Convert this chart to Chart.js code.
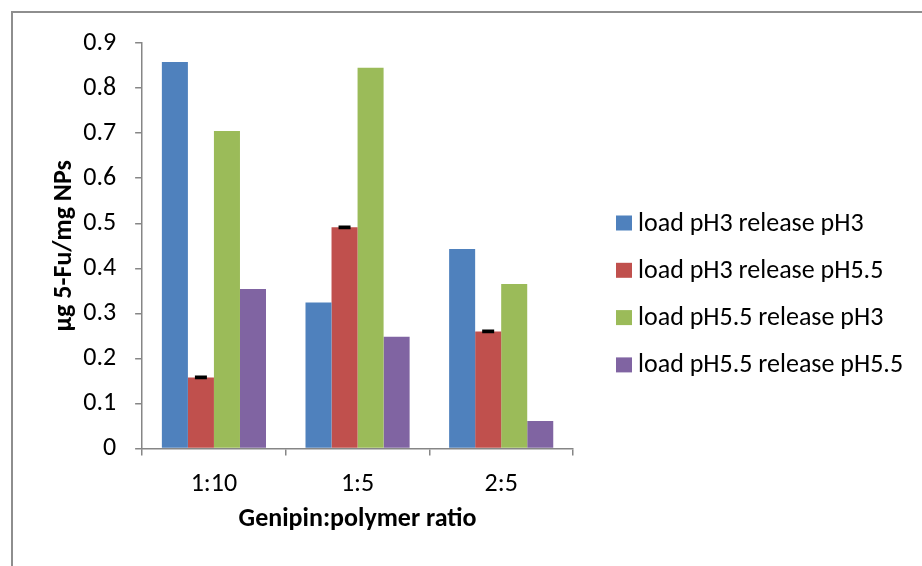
<!DOCTYPE html>
<html>
<head>
<meta charset="utf-8">
<script src="https://cdn.jsdelivr.net/npm/chart.js@4.4.1/dist/chart.umd.min.js"></script>
<style>
  html, body { margin: 0; padding: 0; background: #fff; }
  #wrap { position: relative; width: 922px; height: 566px; }
  #frame { position: absolute; left: 11px; top: 11px; right: 0; bottom: 0;
           border-left: 2px solid #8e8e8e; border-top: 2px solid #8e8e8e; }
  canvas { position: absolute; left: 0; top: 0; }
</style>
</head>
<body>
<div id="wrap">
  <div id="frame"></div>
  <canvas id="chart" width="922" height="566"></canvas>
</div>
<script>
// ---- Data ----
const ratios = ['1:10', '1:5', '2:5'];
const seriesNames = ['load pH3 release pH3', 'load pH3 release pH5.5', 'load pH5.5 release pH3', 'load pH5.5 release pH5.5'];
const loadPH3RelPH3 = [0.858, 0.324, 0.443];
const loadPH3RelPH55 = [0.158, 0.491, 0.260];
const loadPH55RelPH3 = [0.705, 0.845, 0.365];
const loadPH55RelPH55 = [0.354, 0.248, 0.061];
const errPH3RelPH55 = [0.002, 0.002, 0.002];
const colors = ['#4F81BD', '#C0504D', '#9BBB59', '#8064A2'];

const FONT = 'Carlito, Calibri, Lato, sans-serif';

// small black error caps (only the second series has them)
const errorBars = {
  id: 'errorBars',
  afterDatasetsDraw(chart) {
    const ctx = chart.ctx;
    const meta = chart.getDatasetMeta(1);
    const y = chart.scales.y;
    ctx.save();
    ctx.strokeStyle = '#000';
    ctx.lineWidth = 2;
    meta.data.forEach((bar, i) => {
      const v = loadPH3RelPH55[i], e = errPH3RelPH55[i];
      const yTop = y.getPixelForValue(v + e), yBot = y.getPixelForValue(v - e);
      ctx.beginPath();
      ctx.moveTo(bar.x, yTop); ctx.lineTo(bar.x, yBot);
      ctx.moveTo(bar.x - 6, yTop); ctx.lineTo(bar.x + 6, yTop);
      ctx.moveTo(bar.x - 6, yBot); ctx.lineTo(bar.x + 6, yBot);
      ctx.stroke();
    });
    ctx.restore();
  }
};

// legend drawn on the right, Excel style (square + label)
const sideLegend = {
  id: 'sideLegend',
  afterDraw(chart) {
    const ctx = chart.ctx;
    const x0 = chart.chartArea.right + 43;
    const y0 = 223;
    const step = 47.3;
    ctx.save();
    ctx.font = '26px ' + FONT;
    ctx.textBaseline = 'middle';
    chart.data.datasets.forEach((ds, i) => {
      const cy = y0 + i * step;
      ctx.fillStyle = ds.backgroundColor;
      ctx.fillRect(x0, cy - 7.5, 16, 15);
      ctx.fillStyle = '#000';
      ctx.fillText(ds.label, x0 + 22, cy + 1);
    });
    ctx.restore();
  }
};

const values = [loadPH3RelPH3, loadPH3RelPH55, loadPH55RelPH3, loadPH55RelPH55];

new Chart(document.getElementById('chart'), {
  type: 'bar',
  data: {
    labels: ratios,
    datasets: values.map((d, i) => ({
      label: seriesNames[i],
      data: d,
      backgroundColor: colors[i],
      borderWidth: 0,
      categoryPercentage: 0.725,
      barPercentage: 1
    }))
  },
  options: {
    responsive: false,
    animation: false,
    layout: { padding: { left: 49, top: 43, right: 349, bottom: 24 } },
    plugins: {
      tooltip: { enabled: false },
      legend: { display: false }
    },
    scales: {
      x: {
        grid: { drawOnChartArea: false, drawTicks: true, tickLength: 7, color: '#868686', lineWidth: 1.5 },
        border: { color: '#868686', width: 1.5 },
        ticks: { color: '#000', padding: 13, font: { family: FONT, size: 26 } },
        title: { display: true, text: 'Genipin:polymer ratio', color: '#000',
                 font: { family: FONT, size: 26, weight: 'bold' }, padding: { top: -9, bottom: 7 } }
      },
      y: {
        min: 0, max: 0.9,
        grid: { drawOnChartArea: false, drawTicks: true, tickLength: 7, color: '#868686', lineWidth: 1.5 },
        border: { color: '#868686', width: 1.5 },
        ticks: { stepSize: 0.1, color: '#000', padding: 19, font: { family: FONT, size: 26 },
                 callback: v => Number(v.toFixed(1)).toString() },
        title: { display: true, text: 'µg 5-Fu/mg NPs', color: '#000',
                 font: { family: FONT, size: 26, weight: 'bold' }, padding: { top: 0, bottom: -16 } }
      }
    }
  },
  plugins: [errorBars, sideLegend]
});
</script>
</body>
</html>
